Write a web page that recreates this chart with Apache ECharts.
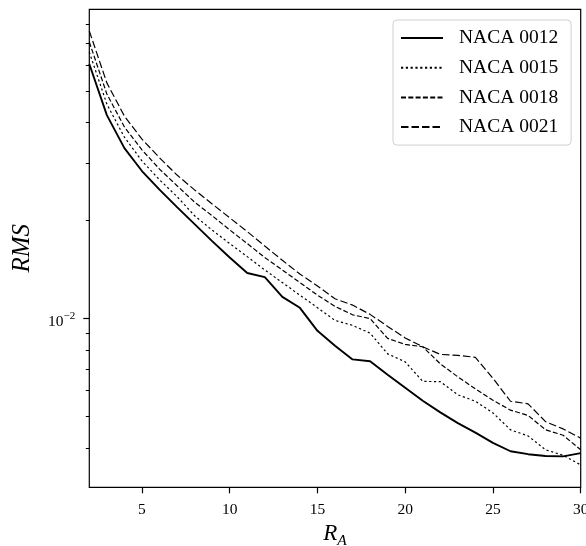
<!DOCTYPE html>
<html><head><meta charset="utf-8">
<script src="https://cdn.jsdelivr.net/npm/echarts@6/dist/echarts.min.js"></script>
<style>html,body{margin:0;padding:0;background:#fff}#c{width:586px;height:546px}</style>
</head><body><div id="c"></div><script>
const xValues = [2,3,4,5,6,7,8,9,10,11,12,13,14,15,16,17,18,19,20,21,22,23,24,25,26,27,28,29,30];
const naca0012 = [0.0606,0.0422,0.0334,0.0284,0.0249,0.0220,0.0195,0.0173,0.0154,0.0138,0.0134,0.01166,0.01079,0.00917,0.00825,0.00749,0.00739,0.00672,0.00613,0.00559,0.00515,0.00477,0.00446,0.00415,0.00391,0.00383,0.00378,0.00377,0.00386];
const naca0015 = [0.0659,0.0456,0.0361,0.0305,0.0267,0.0237,0.0207,0.0187,0.0170,0.0155,0.0141,0.0129,0.0118,0.0108,0.00987,0.00953,0.00902,0.00779,0.00736,0.00641,0.00640,0.00583,0.00557,0.00513,0.00455,0.00436,0.00395,0.00380,0.00355];
const naca0018 = [0.0708,0.0490,0.0388,0.0330,0.0288,0.0256,0.0228,0.0207,0.01873,0.0170,0.0154,0.0141,0.0129,0.0118,0.0109,0.01027,0.0100,0.00869,0.00833,0.00819,0.00726,0.00662,0.00608,0.00561,0.00523,0.00504,0.00455,0.00438,0.00395];
const naca0021 = [0.0765,0.0530,0.0419,0.0356,0.0312,0.0276,0.02485,0.0225,0.0204,0.0185,0.0167,0.0151,0.0137,0.0126,0.0115,0.0110,0.0103,0.00946,0.00872,0.00819,0.00776,0.00771,0.00760,0.00655,0.00557,0.00547,0.00482,0.00458,0.00429];
const seriesNames = ['NACA 0012','NACA 0015','NACA 0018','NACA 0021'];
const xTicks = [5,10,15,20,25,30];
const yMajorTicks = [0.01];
const yMinorTicks = [0.004,0.005,0.006,0.007,0.008,0.009,0.02,0.03,0.04,0.05,0.06,0.07,0.08];

const FONT = '"Liberation Serif","DejaVu Serif",serif';
const seriesData = [naca0012, naca0015, naca0018, naca0021];
const styles = [
  {type:'solid', width:1.9},
  {type:[2.2,2.6], width:1.2},
  {type:[5,2.3], width:1.2},
  {type:[7.5,3], width:1.2}
];
const chart = echarts.init(document.getElementById('c'), null, {renderer:'canvas'});
const yBase = {type:'log', logBase:10, min:0.00303, max:0.0892, gridIndex:0, position:'left',
  axisLine:{show:false}, splitLine:{show:false}, minorTick:{show:false}, minorSplitLine:{show:false}};
chart.setOption({
  animation:false,
  backgroundColor:'#fff',
  grid:{left:89.3, top:9.3, width:491.4, height:478, containLabel:false, outerBoundsMode:'none',
    show:true, borderColor:'#000', borderWidth:1.2, backgroundColor:'transparent'},
  legend:{
    data:seriesNames, orient:'vertical', left:393, top:20,
    padding:[8,13,8,7], itemWidth:42, itemHeight:14, itemGap:9.7,
    backgroundColor:'#fff', borderColor:'#d0d0d0', borderWidth:1, borderRadius:4,
    itemStyle:{opacity:0, borderWidth:0},
    textStyle:{fontFamily:FONT, fontSize:19.5, color:'#000', padding:[0,0,0,11]}
  },
  xAxis:{
    type:'value', min:2, max:30,
    axisLine:{show:false, onZero:false},
    splitLine:{show:false},
    axisTick:{show:true, customValues:xTicks, length:6, inside:false, lineStyle:{color:'#000', width:1.2}},
    axisLabel:{customValues:xTicks, margin:14.5, color:'#000', fontFamily:FONT, fontSize:15.5},
    name:'{i|R}{s|A}', nameLocation:'middle', nameGap:31,
    nameTextStyle:{rich:{
      i:{fontFamily:FONT, fontStyle:'italic', fontSize:23, color:'#000', padding:[0,0,3,0], verticalAlign:'bottom'},
      s:{fontFamily:FONT, fontStyle:'italic', fontSize:15.5, color:'#000', verticalAlign:'bottom'}
    }}
  },
  yAxis:[
    Object.assign({}, yBase, {
      axisTick:{show:true, customValues:yMajorTicks, length:6, lineStyle:{color:'#000', width:1.2}},
      axisLabel:{customValues:yMajorTicks, margin:14, formatter:function(){return '{b|10}{p|\u22122}';},
        rich:{
          b:{fontFamily:FONT, fontSize:15.5, color:'#000', verticalAlign:'bottom', padding:[6,0,0,0]},
          p:{fontFamily:FONT, fontSize:11, color:'#000', verticalAlign:'bottom', padding:[0,0,8,0]}
        }},
      name:'RMS', nameLocation:'middle', nameGap:54, nameRotate:90,
      nameTextStyle:{fontFamily:FONT, fontStyle:'italic', fontSize:25, color:'#000'}
    }),
    Object.assign({}, yBase, {
      axisTick:{show:true, customValues:yMinorTicks, length:3.5, lineStyle:{color:'#000', width:1}},
      axisLabel:{show:false}
    })
  ],
  series: seriesNames.map(function(name, k){
    return {
      name:name, type:'line', xAxisIndex:0, yAxisIndex:0, symbol:'none', smooth:false,
      data: xValues.map(function(x, i){ return [x, seriesData[k][i]]; }),
      lineStyle:{color:'#000', width:styles[k].width, type:styles[k].type},
      itemStyle:{color:'#000'}, emphasis:{disabled:true}
    };
  })
});
</script></body></html>
